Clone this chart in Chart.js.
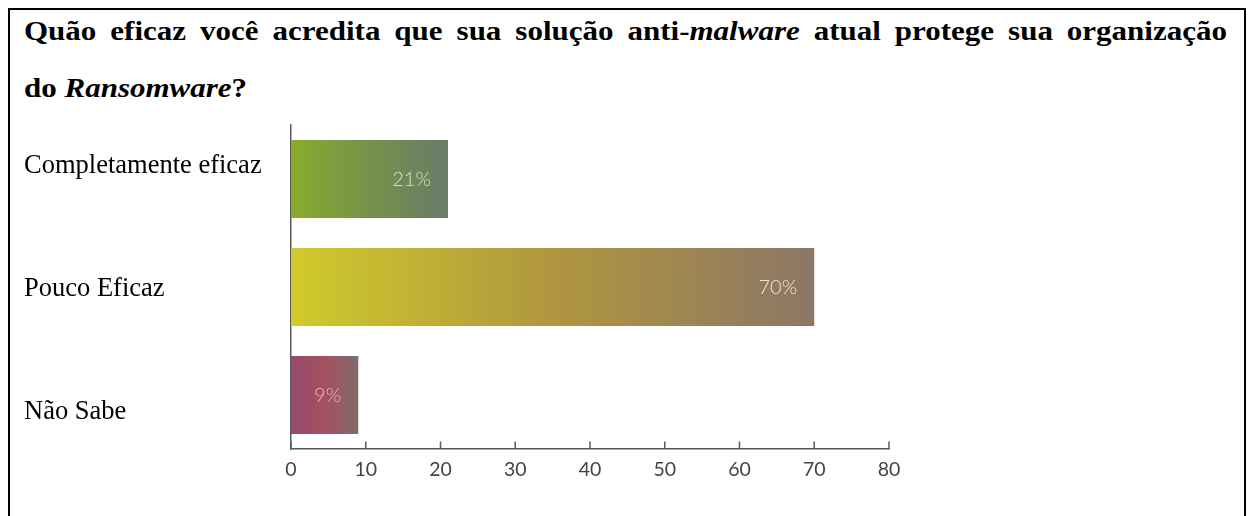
<!DOCTYPE html>
<html><head><meta charset="utf-8">
<script src="https://cdn.jsdelivr.net/npm/chart.js@4.4.0/dist/chart.umd.min.js"></script>
<style>
html,body{margin:0;padding:0;background:#fff;width:1250px;height:516px;overflow:hidden;}
#box{position:absolute;left:8px;top:8px;width:1234px;height:600px;border:2px solid #000;}
.t{position:absolute;left:24px;width:1086.7px;font-family:"Liberation Serif","Times New Roman",serif;font-weight:bold;font-size:28px;line-height:57px;color:#000;white-space:nowrap;transform:scaleX(1.107);transform-origin:0 0;}
#t1{top:2px;text-align:justify;text-align-last:justify;white-space:normal;}
#t2{top:59px;text-align:left;}
canvas{position:absolute;left:0;top:0;}
</style></head>
<body>
<div id="box"></div>
<div class="t" id="t1">Quão eficaz você acredita que sua solução anti-<i>malware</i> atual protege sua organização</div>
<div class="t" id="t2">do <i>Ransomware</i>?</div>
<canvas id="c" width="1250" height="516"></canvas>
<script>
const categories = ["Completamente eficaz", "Pouco Eficaz", "Não Sabe"];
const values = [21, 70, 9];
const valueLabels = ["21%", "70%", "9%"];
const xTicks = [0, 10, 20, 30, 40, 50, 60, 70, 80];

// styling
const barGradients = [
  ["#8aab2c", "#76914a", "#6a7b68"],
  ["#d0ca2b", "#b0963f", "#8c7666"],
  ["#974a70", "#a5505f", "#7e6d6b"]
];
const labelColors = ["#cfe6b4", "#f6e2cf", "#f2aec2"];
const catBaselineShift = [-6, 9, 24];
const axisColor = "#5a5a5a";

function barGradient(c) {
  const chart = c.chart;
  const area = chart.chartArea;
  const stops = barGradients[c.dataIndex] || barGradients[0];
  if (!area) return stops[0];
  const xs = chart.scales.x;
  const x0 = xs.getPixelForValue(0);
  const x1 = xs.getPixelForValue(values[c.dataIndex]);
  const g = chart.ctx.createLinearGradient(x0, 0, x1, 0);
  stops.forEach((s, i) => g.addColorStop(i / (stops.length - 1), s));
  return g;
}

const extras = {
  id: 'extras',
  afterDatasetsDraw(chart) {
    const ctx = chart.ctx;
    const meta = chart.getDatasetMeta(0);
    ctx.save();
    ctx.font = '300 20px Lato, sans-serif';
    ctx.textAlign = 'right';
    ctx.textBaseline = 'alphabetic';
    meta.data.forEach((bar, i) => {
      ctx.fillStyle = labelColors[i];
      ctx.fillText(valueLabels[i], bar.x - 17, bar.y + 7);
    });
    ctx.restore();
  },
  afterDraw(chart) {
    const ctx = chart.ctx;
    const xs = chart.scales.x, ys = chart.scales.y;
    const bottom = chart.chartArea.bottom;
    ctx.save();
    ctx.strokeStyle = axisColor;
    ctx.lineWidth = 1.5;
    xs.ticks.forEach((t, i) => {
      const px = xs.getPixelForTick(i);
      ctx.beginPath();
      ctx.moveTo(px, bottom);
      ctx.lineTo(px, bottom - 7.5);
      ctx.stroke();
    });
    ctx.fillStyle = '#000';
    ctx.font = '26.5px "Liberation Serif", "Times New Roman", serif';
    ctx.textAlign = 'left';
    ctx.textBaseline = 'alphabetic';
    categories.forEach((lab, i) => {
      ctx.fillText(lab, 24, ys.getPixelForTick(i) + catBaselineShift[i]);
    });
    ctx.restore();
  }
};

new Chart(document.getElementById('c'), {
  type: 'bar',
  data: {
    labels: categories,
    datasets: [{
      data: values,
      backgroundColor: barGradient,
      borderWidth: 0,
      barPercentage: 0.72,
      categoryPercentage: 1
    }]
  },
  options: {
    indexAxis: 'y',
    responsive: false,
    animation: false,
    devicePixelRatio: 1,
    layout: { padding: { left: 0, top: 125, right: 361, bottom: 0 } },
    plugins: { legend: { display: false }, tooltip: { enabled: false } },
    scales: {
      x: {
        type: 'linear', min: 0, max: 80,
        afterFit(s) { s.height = 67; },
        afterBuildTicks(s) { s.ticks = xTicks.map(v => ({ value: v })); },
        grid: { display: false, drawTicks: false },
        border: { display: true, color: axisColor, width: 1.5 },
        ticks: { padding: 9, color: '#444', font: { family: 'Lato', size: 19.5 } }
      },
      y: {
        afterFit(s) { s.width = 291; },
        grid: { display: false, drawTicks: false },
        border: { display: true, color: axisColor, width: 1.5 },
        ticks: { display: false }
      }
    }
  },
  plugins: [extras]
});
</script>
</body></html>
